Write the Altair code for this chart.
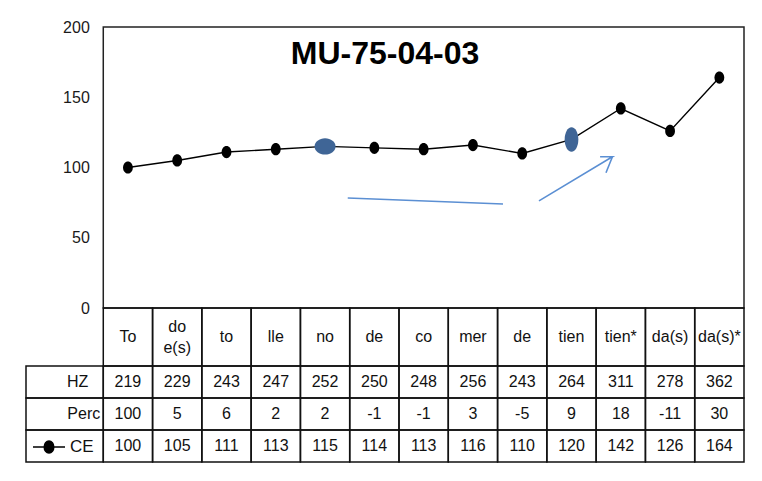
import altair as alt
import pandas as pd

# ---------------- data ----------------
categories = ["To", "do\ne(s)", "to", "lle", "no", "de", "co", "mer", "de", "tien", "tien*", "da(s)", "da(s)*"]
hz = [219, 229, 243, 247, 252, 250, 248, 256, 243, 264, 311, 278, 362]
perc = [100, 5, 6, 2, 2, -1, -1, 3, -5, 9, 18, -11, 30]
ce = [100, 105, 111, 113, 115, 114, 113, 116, 110, 120, 142, 126, 164]
row_names = ["HZ", "Perc", "CE"]
y_ticks = [0, 50, 100, 150, 200]
title_text = "MU-75-04-03"
series_name = "CE"

# hand-drawn blue annotations (in data units: column index / CE value)
highlight_idx = [4, 9]
underline_x = [4.96, 8.11]
underline_y = [78.3, 74.0]
arrow_x = [8.84, 10.33, 10.08]
arrow_y = [76.2, 107.7, 107.7]
arrow_head_x = [10.20, 10.33]
arrow_head_y = [96.3, 107.7]

# ---------------- layout ----------------
FONT = "Liberation Sans, Arial, sans-serif"
FS = 16
N = len(categories)
PLOT_W = 718
LINE_PX = 281.0          # pixel height of the 0..200 region
HEADER_PX = 58.0
ROW_PX = 32.0
U_PER_PX = 200.0 / LINE_PX
HEADER_U = HEADER_PX * U_PER_PX
ROW_U = ROW_PX * U_PER_PX
TABLE_U = HEADER_U + ROW_U * len(row_names)
PLOT_H = int(round(LINE_PX + HEADER_PX + ROW_PX * len(row_names)))
COL_PX = 49.3
LABEL_U = 77.3 / COL_PX
XMIN = -LABEL_U
LINE_GAP_U = 10.5 * U_PER_PX

xs = alt.Scale(domain=[XMIN, N], nice=False, zero=False)
ys = alt.Scale(domain=[-TABLE_U, 200], nice=False, zero=False)
y_axis = alt.Axis(values=y_ticks, offset=-77.3, labelPadding=14, ticks=False, domain=False,
                  grid=False, labelFont=FONT, labelFontSize=FS, labelColor="#1a1a1a", title=None)


def X(f):
    return alt.X(f, scale=xs, axis=None)


def Y(f):
    return alt.Y(f, scale=ys, axis=y_axis)


# ---------------- tables ----------------
df = pd.DataFrame({
    "xc": [i + 0.5 for i in range(N)],
    "ce": ce,
    "series": [series_name] * N,
})

header = pd.DataFrame({
    "x0": list(range(N)),
    "x1": [i + 1 for i in range(N)],
    "y0": [0.0] * N,
    "y1": [-HEADER_U] * N,
})

htxt = []
for i, c in enumerate(categories):
    parts = c.split("\n")
    k = len(parts)
    for j, p in enumerate(parts):
        off = ((k - 1) / 2 - j) * LINE_GAP_U * 2 / max(k - 1, 1) if k > 1 else 0.0
        htxt.append({"xc": i + 0.5, "yc": -HEADER_U / 2 + off, "txt": p})
htxt = pd.DataFrame(htxt)

cells = []
values_by_row = {"HZ": hz, "Perc": perc, "CE": ce}
for r, name in enumerate(row_names):
    top = -HEADER_U - r * ROW_U
    bot = top - ROW_U
    cells.append({"x0": XMIN, "x1": 0.0, "xc": 0.0, "y0": top, "y1": bot,
                  "yc": (top + bot) / 2, "txt": "", "row": name})
    for i in range(N):
        cells.append({"x0": i, "x1": i + 1, "xc": i + 0.5, "y0": top, "y1": bot,
                      "yc": (top + bot) / 2, "txt": str(values_by_row[name][i]), "row": name})
cells = pd.DataFrame(cells)
rowlab = cells[cells["x0"] == XMIN].copy()
rowlab["txt"] = rowlab["row"]

frame = pd.DataFrame({"x0": [0], "x1": [N], "y0": [0], "y1": [200]})

frame_l = alt.Chart(frame).mark_rect(fill=None, stroke="#222", strokeWidth=1.5).encode(
    x=X("x0:Q"), x2="x1:Q", y=Y("y0:Q"), y2="y1:Q")

header_rect = alt.Chart(header).mark_rect(fill=None, stroke="#111", strokeWidth=1.5).encode(
    x=X("x0:Q"), x2="x1:Q", y=Y("y0:Q"), y2="y1:Q")

header_txt = alt.Chart(htxt).mark_text(
    font=FONT, fontSize=FS, color="#111", baseline="middle"
).encode(x=X("xc:Q"), y=Y("yc:Q"), text="txt:N")

cell_rect = alt.Chart(cells).mark_rect(fill=None, stroke="#111", strokeWidth=1.5).encode(
    x=X("x0:Q"), x2="x1:Q", y=Y("y0:Q"), y2="y1:Q")

cell_txt = alt.Chart(cells).mark_text(
    font=FONT, fontSize=FS, color="#111", baseline="middle"
).encode(x=X("xc:Q"), y=Y("yc:Q"), text="txt:N")

rowlab_txt = alt.Chart(rowlab[rowlab["row"] == "HZ"]).mark_text(
    font=FONT, fontSize=FS, color="#111", baseline="middle", align="right", dx=-15
).encode(x=X("xc:Q"), y=Y("yc:Q"), text="txt:N")

rowlab_txt2 = alt.Chart(rowlab[rowlab["row"] == "Perc"]).mark_text(
    font=FONT, fontSize=FS, color="#111", baseline="middle", align="right", dx=-3
).encode(x=X("xc:Q"), y=Y("yc:Q"), text="txt:N")

legend_path = "M-1,0L1,0M-0.3,0A0.3,0.38,0,1,0,0.3,0A0.3,0.38,0,1,0,-0.3,0Z"

line = alt.Chart(df).mark_line(strokeWidth=1.4).encode(
    x=X("xc:Q"),
    y=Y("ce:Q"),
    color=alt.Color("series:N", scale=alt.Scale(domain=[series_name], range=["black"]),
                    legend=alt.Legend(orient="none", legendX=6, legendY=403, title=None,
                                      symbolType=legend_path, symbolSize=1024,
                                      symbolStrokeWidth=1.5, symbolFillColor="black",
                                      symbolStrokeColor="black", labelFont=FONT,
                                      labelFontSize=FS + 1, labelColor="#111",
                                      labelOffset=4, padding=0)),
)

dot_path = "M0,-1A0.8,1,0,1,0,0,1A0.8,1,0,1,0,0,-1Z"
pts = alt.Chart(df).mark_point(shape=dot_path, filled=True, size=150, opacity=1, color="black").encode(
    x=X("xc:Q"), y=Y("ce:Q"))

hl = df.iloc[highlight_idx]
hl1 = alt.Chart(hl.iloc[[0]]).mark_point(
    shape="M-1,0A1,0.78,0,1,0,1,0A1,0.78,0,1,0,-1,0Z", filled=True, size=440, opacity=1,
    color="#3f6596").encode(x=X("xc:Q"), y=Y("ce:Q"))
hl2 = alt.Chart(hl.iloc[[1]]).mark_point(
    shape="M0,-1A0.56,1,0,1,0,0,1A0.56,1,0,1,0,0,-1Z", filled=True, size=600, opacity=1,
    color="#3f6596").encode(x=X("xc:Q"), y=Y("ce:Q"))

ann = pd.DataFrame({
    "x": underline_x + arrow_x + arrow_head_x,
    "y": underline_y + arrow_y + arrow_head_y,
    "seg": ["u"] * len(underline_x) + ["a"] * len(arrow_x) + ["h"] * len(arrow_head_x),
    "o": list(range(len(underline_x))) + list(range(len(arrow_x))) + list(range(len(arrow_head_x))),
})
ann_l = alt.Chart(ann).mark_line(color="#5b8fd3", strokeWidth=1.6).encode(
    x=X("x:Q"), y=Y("y:Q"), detail="seg:N", order="o:Q")

title_l = alt.Chart(pd.DataFrame({"t": [title_text]})).mark_text(
    font=FONT, fontSize=32, fontWeight="bold", color="black", baseline="middle", align="center"
).encode(x=alt.value(359), y=alt.value(27), text="t:N")

chart = alt.layer(
    frame_l, header_rect, cell_rect, header_txt, cell_txt, rowlab_txt, rowlab_txt2,
    ann_l, line, pts, hl1, hl2, title_l
).properties(
    width=PLOT_W, height=PLOT_H,
    padding={"left": 17, "top": 11, "right": 5, "bottom": 5},
    background="white",
).configure_view(stroke=None)

chart.save("out.html", embed_options={"renderer": "svg", "actions": False})
